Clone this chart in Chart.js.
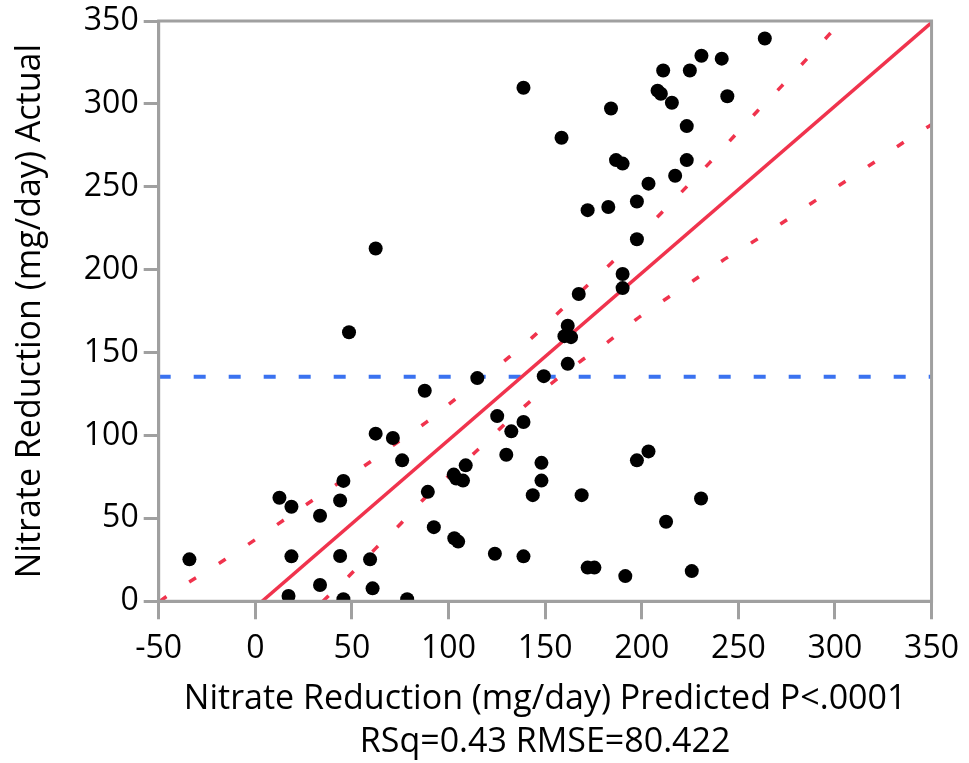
<!DOCTYPE html>
<html>
<head>
<meta charset="utf-8">
<title>Nitrate Reduction Actual by Predicted</title>
<script src="https://cdn.jsdelivr.net/npm/chart.js@4/dist/chart.umd.min.js"></script>
<style>
  html, body { margin: 0; padding: 0; background: #fff; }
  #plot { display: block; }
</style>
</head>
<body>
<canvas id="plot" width="969" height="763"></canvas>
<script>
// Actual vs predicted nitrate reduction (mg/day)
const predicted = [
  -34.1, 12.5, 18.7, 18.7, 17.2, 33.5, 33.5, 45.6, 43.9, 43.9,
  45.6, 48.5, 62.3, 62.3, 60.7, 59.4, 71.2, 76.0, 78.6, 87.7,
  89.3, 92.4, 102.7, 104.0, 107.5, 108.9, 103.0, 105.0, 114.9, 125.2,
  124.0, 129.9, 132.5, 138.8, 138.8, 138.8, 143.6, 148.1, 148.1, 149.3,
  158.5, 161.7, 160.0, 163.4, 161.7, 167.4, 168.9, 172.0, 172.0, 175.5,
  182.7, 184.1, 186.7, 190.1, 190.1, 190.1, 191.5, 197.5, 197.5, 197.5,
  203.5, 203.5, 208.2, 209.9, 211.1, 215.6, 217.3, 212.6, 223.3, 223.3,
  224.9, 225.9, 230.9, 230.7, 241.4, 244.3, 263.7
];
const actual = [
  25.3, 62.4, 57.0, 27.1, 3.2, 51.6, 9.8, 72.6, 60.8, 27.3,
  1.2, 162.3, 212.8, 101.1, 7.8, 25.3, 98.5, 85.0, 1.2, 127.0,
  66.0, 44.7, 76.4, 74.0, 72.8, 82.0, 38.0, 36.0, 134.6, 111.7,
  28.7, 88.4, 102.5, 108.1, 309.7, 27.1, 64.0, 83.5, 72.8, 135.8,
  279.6, 166.2, 159.9, 159.3, 143.2, 185.3, 64.0, 235.9, 20.3, 20.3,
  237.8, 297.2, 266.1, 264.0, 197.4, 188.9, 15.2, 241.1, 218.4, 85.0,
  251.9, 90.4, 308.0, 306.1, 320.1, 300.7, 256.7, 48.0, 286.6, 266.1,
  320.1, 18.2, 329.0, 62.0, 327.3, 304.6, 339.4
];

// fit line and confidence curves
const fitX = [3.5, 350];
const fitY = [0, 349];
const upperX = [-49.3, -45.6, -30.6, -15.5, -0.4, 14.6, 29.8, 59.4, 74.3, 89.1, 103.2, 131.3,
  145.4, 158.3, 171.7, 184.6, 209.9, 222.8, 235.2, 247.4, 259.8, 272.4, 284.4, 296.6, 303.5];
const upperY = [0, 3.2, 14.3, 25.3, 36.9, 48.9, 61.0, 84.0, 96.5, 108.5, 121.7, 147.2,
  161.3, 175.7, 190.3, 204.4, 233.9, 249.5, 264.6, 280.0, 295.6, 310.7, 325.8, 341.3, 350];
const lowerX = [35.0, 37.8, 49.0, 62.3, 74.5, 86.6, 99.5, 113.5, 126.5, 140.2, 153.1, 168.1,
  182.7, 197.0, 211.1, 226.6, 241.7, 257.2, 272.4, 287.8, 302.5, 317.4, 332.5, 347.2, 350];
const lowerY = [0, 3.2, 15.8, 31.9, 45.9, 61.0, 75.0, 89.6, 104.0, 118.5, 131.2, 144.6,
  156.6, 169.9, 181.3, 193.3, 205.4, 216.5, 228.0, 240.1, 251.1, 262.5, 274.5, 285.6, 287.5];
const meanActual = 135.4;

const xTicks = [-50, 0, 50, 100, 150, 200, 250, 300, 350];
const yTicks = [0, 50, 100, 150, 200, 250, 300, 350];

const xTitle = ["Nitrate Reduction (mg/day) Predicted P<.0001", "RSq=0.43 RMSE=80.422"];
const yTitle = "Nitrate Reduction (mg/day) Actual";

const AXIS_GRAY = "#a0a0a0";
const RED = "#f0334d";
const BLUE = "#3a72f0";

function toPoints(xs, ys) {
  return xs.map((x, i) => ({ x, y: ys[i] }));
}

// gray box round the plot area, like the axes frame
const frame = {
  id: "frame",
  afterDatasetsDraw(chart) {
    const { ctx, chartArea: a } = chart;
    ctx.save();
    ctx.strokeStyle = AXIS_GRAY;
    ctx.lineWidth = 3;
    ctx.strokeRect(a.left, a.top, a.right - a.left, a.bottom - a.top);
    ctx.restore();
  }
};

Chart.defaults.font.family = "'Open Sans', sans-serif";
Chart.defaults.color = "#000";

new Chart(document.getElementById("plot"), {
  type: "scatter",
  data: {
    datasets: [
      {
        data: toPoints(predicted, actual),
        backgroundColor: "#000",
        borderWidth: 0,
        pointRadius: 7,
        pointHoverRadius: 7,
        clip: 0
      },
      {
        data: toPoints(fitX, fitY),
        showLine: true,
        borderColor: RED,
        borderWidth: 3.5,
        pointRadius: 0,
        clip: 0
      },
      {
        data: toPoints(upperX, upperY),
        showLine: true,
        borderColor: RED,
        borderWidth: 3.5,
        borderDash: [8, 27],
        cubicInterpolationMode: "monotone",
        pointRadius: 0,
        clip: 0
      },
      {
        data: toPoints(lowerX, lowerY),
        showLine: true,
        borderColor: RED,
        borderWidth: 3.5,
        borderDash: [8, 27],
        cubicInterpolationMode: "monotone",
        pointRadius: 0,
        clip: 0
      },
      {
        data: toPoints([-50, 350], [meanActual, meanActual]),
        showLine: true,
        borderColor: BLUE,
        borderWidth: 4,
        borderDash: [12, 23],
        pointRadius: 0,
        clip: 0
      }
    ]
  },
  options: {
    responsive: false,
    animation: false,
    events: [],
    layout: { padding: { left: 8, right: 8, top: 0, bottom: 0 } },
    plugins: { legend: { display: false }, tooltip: { enabled: false } },
    scales: {
      x: {
        type: "linear",
        min: -50,
        max: 350,
        afterBuildTicks: (scale) => { scale.ticks = xTicks.map(v => ({ value: v })); },
        ticks: { font: { size: 32 }, padding: 10, maxRotation: 0, autoSkip: false },
        grid: { drawOnChartArea: false, tickLength: 18, color: AXIS_GRAY, lineWidth: 3 },
        border: { color: AXIS_GRAY, width: 3 },
        title: {
          display: true,
          text: xTitle,
          font: { size: 34, lineHeight: 1.24 },
          padding: { top: 1, bottom: 0 }
        }
      },
      y: {
        type: "linear",
        min: 0,
        max: 350,
        afterBuildTicks: (scale) => { scale.ticks = yTicks.map(v => ({ value: v })); },
        ticks: { font: { size: 32, lineHeight: 1.0 }, padding: 5, autoSkip: false },
        grid: { drawOnChartArea: false, tickLength: 15, color: AXIS_GRAY, lineWidth: 3 },
        border: { color: AXIS_GRAY, width: 3 },
        title: {
          display: true,
          text: yTitle,
          font: { size: 34 },
          padding: { top: 2, bottom: 28 }
        }
      }
    }
  },
  plugins: [frame]
});
</script>
</body>
</html>
